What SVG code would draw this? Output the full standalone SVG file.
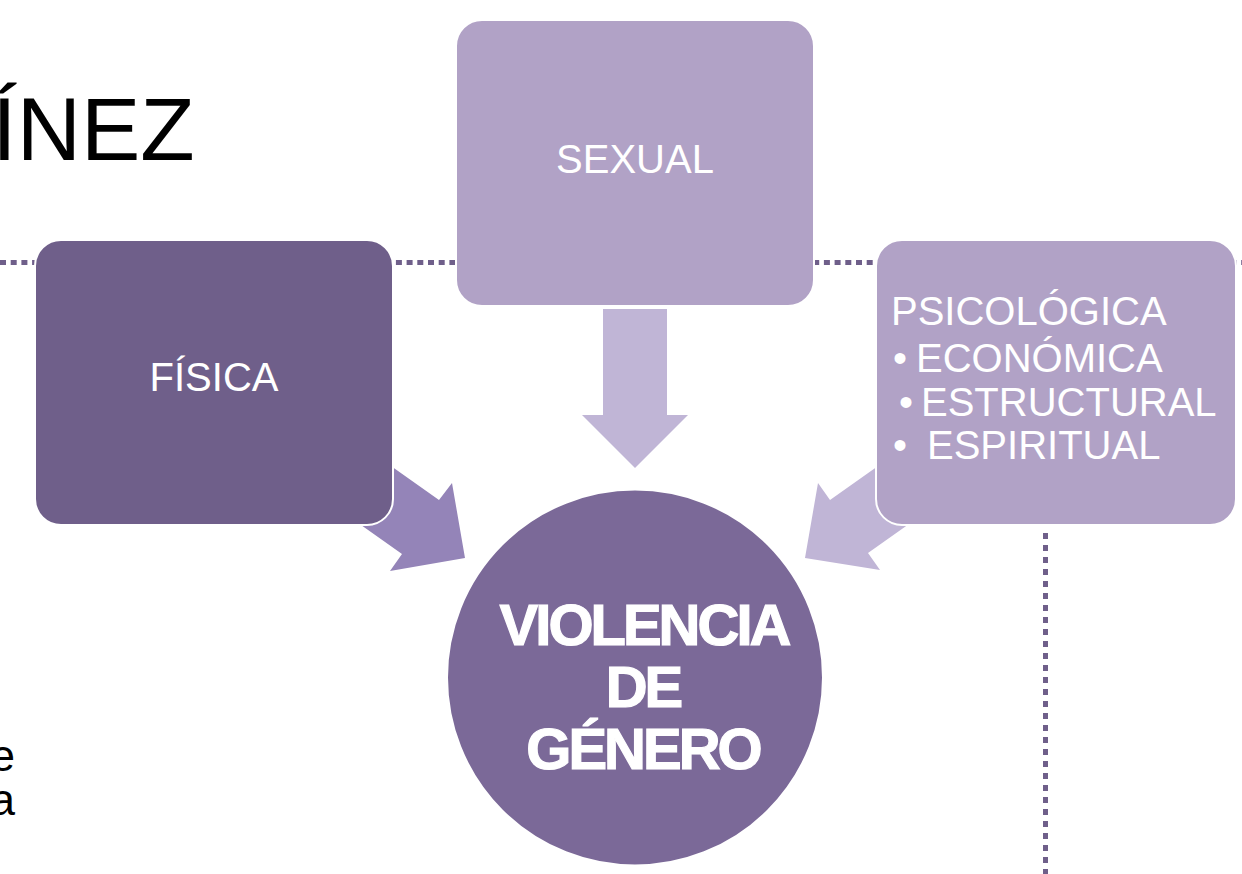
<svg xmlns="http://www.w3.org/2000/svg" width="1242" height="874" viewBox="0 0 1242 874">
<style>
.dot{fill:none;stroke:#6f5f8a;stroke-width:5}
.lbl{font-family:"Liberation Sans",Arial,sans-serif;font-size:40px;fill:#ffffff}
.blk{font-family:"Liberation Sans",Arial,sans-serif;fill:#000000}
.big{font-family:"Liberation Sans",Arial,sans-serif;font-weight:bold;font-size:58px;fill:#ffffff;stroke:#ffffff;stroke-width:1.2;letter-spacing:-3px;text-anchor:middle}
.box{stroke:#ffffff;stroke-width:2}
</style>
<rect width="1242" height="874" fill="#ffffff"/>
<g id="background-text">
<text class="blk" x="-8" y="160" font-size="89">ÍNEZ</text>
<text class="blk" x="15" y="771" font-size="44" text-anchor="end">e</text>
<text class="blk" x="15" y="815" font-size="44" text-anchor="end">a</text>
</g>
<g id="dotted-lines">
<line class="dot" x1="0" y1="262.5" x2="1242" y2="262.5" stroke-dasharray="6 4.7"/>
<line class="dot" x1="1045.5" y1="533" x2="1045.5" y2="874" stroke-dasharray="6 6"/>
</g>
<g id="connectors">
<polygon points="374,454 439,500 452,483 465,558 390,571 402,554 337,508" fill="#9484b8"/>
<polygon points="603,309 667,309 667,415 688,415 635,468 582,415 603,415" fill="#c0b5d6"/>
<polygon points="895,454 830,500 818,483 805,558 880,570 868,553 933,507" fill="#c0b5d6"/>
</g>
<g id="fisica">
<rect class="box" x="35" y="240" width="358" height="285" rx="26" fill="#6f5f8a"/>
<text class="lbl" x="214" y="391" text-anchor="middle">FÍSICA</text>
</g>
<g id="sexual">
<rect class="box" x="456" y="20" width="358" height="286" rx="26" fill="#b1a2c6"/>
<text class="lbl" x="635" y="173" text-anchor="middle">SEXUAL</text>
</g>
<g id="psicologica">
<rect class="box" x="876" y="240" width="360" height="285" rx="26" fill="#b1a2c6"/>
<text class="lbl" x="891" y="325">PSICOLÓGICA</text>
<text class="lbl" x="893" y="372">•</text>
<text class="lbl" x="916" y="372">ECONÓMICA</text>
<text class="lbl" x="899" y="416">•</text>
<text class="lbl" x="921" y="416" font-size="39">ESTRUCTURAL</text>
<text class="lbl" x="893" y="459">•</text>
<text class="lbl" x="927" y="459">ESPIRITUAL</text>
</g>
<g id="violencia">
<circle cx="635" cy="677.5" r="188" fill="#7b6998" stroke="#ffffff" stroke-width="2"/>
<text class="big" x="644" y="645">VIOLENCIA</text>
<text class="big" x="643" y="707">DE</text>
<text class="big" x="643" y="769">GÉNERO</text>
</g>
</svg>
